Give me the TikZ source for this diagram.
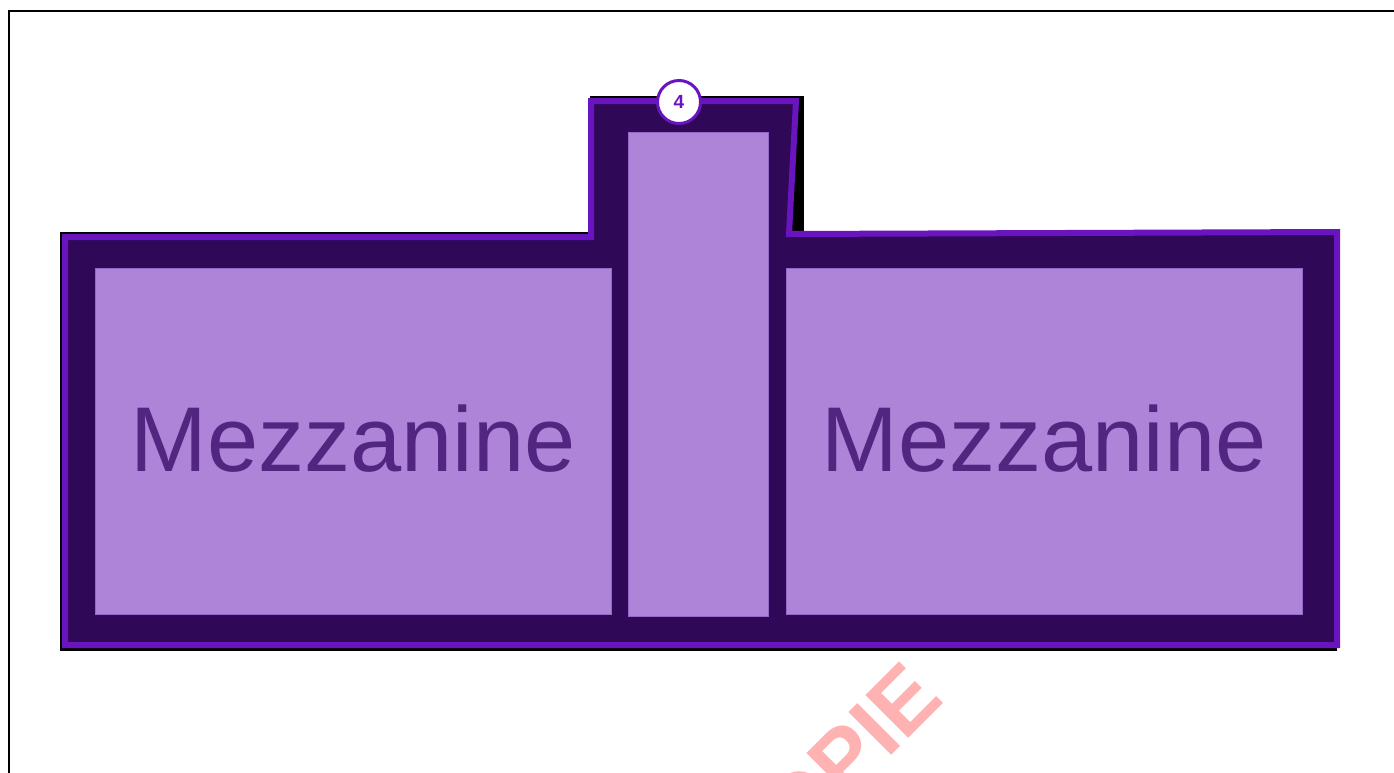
\documentclass[tikz,border=0pt]{standalone}
\usepackage{fontspec}
\setmainfont{Liberation Sans}
\definecolor{hallfill}{RGB}{48,8,88}
\definecolor{hallline}{RGB}{106,20,192}
\definecolor{roomfill}{RGB}{173,132,216}
\definecolor{roomline}{RGB}{150,105,200}
\definecolor{roomtext}{RGB}{82,38,128}
\definecolor{stamp}{RGB}{255,178,178}

\begin{document}
\begin{tikzpicture}[x=1pt,y=-1pt,
		room/.style={fill=roomfill,draw=roomline,line width=1pt,inner sep=0pt},
		roomlabel/.style={text=roomtext,font=\fontsize{92}{92}\selectfont,anchor=base,inner sep=0pt}]
		\tikzstyle{badge}=[circle,fill=white,draw=hallline,line width=3pt,minimum size=43pt,
			inner sep=0pt,text=hallline,font=\fontsize{19}{19}\selectfont\bfseries]
		
		\useasboundingbox (0,0) rectangle (1394,772);
		\clip (0,0) rectangle (1394,772);
		
		% sheet frame
		\draw[line width=2.5pt] (9,790) -- (9,11) -- (1410,11);
		
		% outline of the level
		\filldraw[black,line width=2pt] (60.5,232.5) -- (591,232.5) -- (591,96.5) -- (803,96.5)
			-- (803,232) -- (1336,232) -- (1336,649.5) -- (60.5,649.5) -- cycle;
		\filldraw[fill=hallfill,draw=hallline,line width=6pt] (65,237) -- (591,237) -- (591,101)
			-- (796,101) -- (789,234) -- (1337,232) -- (1337,645) -- (65,645) -- cycle;
		
		\node[room, minimum width=516pt, minimum height=346pt] (mezzL) at (353,441) {};
		\node[room, minimum width=140pt, minimum height=484pt] (stair) at (698,374) {};
		\node[room, minimum width=516pt, minimum height=346pt] (mezzR) at (1044,441) {};
		
		\node[roomlabel] (mezzLtext) at ([yshift=-30pt]mezzL.center) {Mezzanine};
		\node[roomlabel] (mezzRtext) at ([yshift=-30pt]mezzR.center) {Mezzanine};
		
		\node[badge] (stairno) at (679,102) {4};
		
		% watermark
		\node[rotate=45,text=stamp,font=\fontsize{88}{88}\selectfont\bfseries] (stampmark)
			at (828,776) {COPIE};
\end{tikzpicture}
\end{document}
